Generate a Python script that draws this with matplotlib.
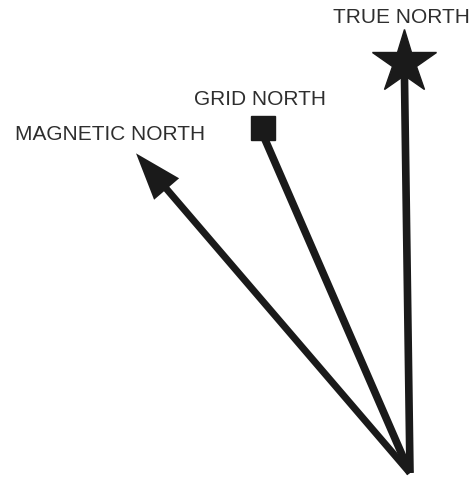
import numpy as np
import matplotlib.pyplot as plt

# bearings measured from vertical (degrees, positive = west/left), lengths in px
labels = ['TRUE NORTH', 'GRID NORTH', 'MAGNETIC NORTH']
bearings = [0.8, 23.5, 40.6]
lengths = [408, 365, 421]

origin = (410, 473)

fig = plt.figure(figsize=(4.76, 4.78), dpi=100)
ax = fig.add_axes([0, 0, 1, 1])
ax.set_xlim(0, 476)
ax.set_ylim(478, 0)
ax.axis('off')

ends = []
for b, L in zip(bearings, lengths):
    r = np.radians(b)
    ends.append((origin[0] - L * np.sin(r), origin[1] - L * np.cos(r)))

col = '#1a1a1a'
tcol = '#2e2e2e'
fs = 15

# true north with star
tx, ty = ends[0]
ax.plot([origin[0], tx], [origin[1], ty], color=col, lw=5.5, solid_capstyle='butt')
ax.plot(tx, ty - 3, marker='*', ms=48, color=col, mec=col)
ax.text(401, 17, labels[0], ha='center', va='center', fontsize=fs,
        family='Liberation Sans', color=tcol)

# grid north with square
gx, gy = ends[1]
ax.plot([origin[0], gx], [origin[1], gy], color=col, lw=5.5, solid_capstyle='butt')
ax.plot(gx - 1, gy - 10, marker='s', ms=17, color=col)
ax.text(260, 99, labels[1], ha='center', va='center', fontsize=fs,
        family='Liberation Sans', color=tcol)

# magnetic north with arrow head
mx, my = ends[2]
ax.arrow(origin[0], origin[1], mx - origin[0], my - origin[1], width=7,
         head_width=33, head_length=47, length_includes_head=True,
         color=col, lw=0)
ax.text(110, 134, labels[2], ha='center', va='center', fontsize=fs,
        family='Liberation Sans', color=tcol)

fig.savefig('out.png', dpi=100)
